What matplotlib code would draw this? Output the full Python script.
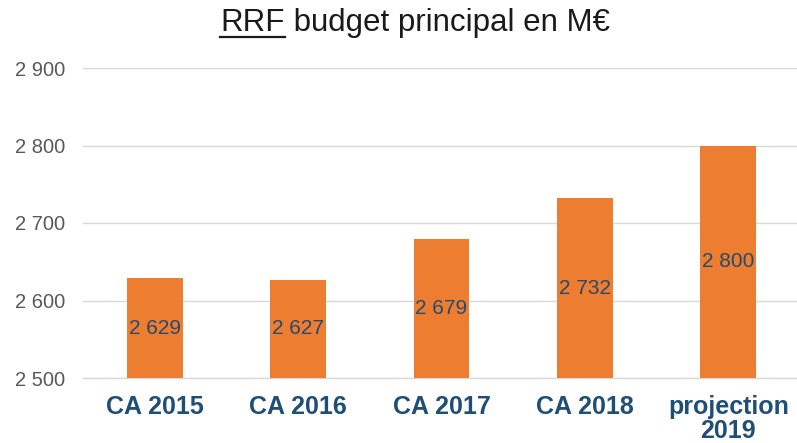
import matplotlib
matplotlib.use("Agg")
import matplotlib.pyplot as plt
from matplotlib.lines import Line2D

categories = ["CA 2015", "CA 2016", "CA 2017", "CA 2018", "projection\n2019"]
values = [2629, 2627, 2679, 2732, 2800]
value_labels = ["2 629", "2 627", "2 679", "2 732", "2 800"]
yticks = [2500, 2600, 2700, 2800, 2900]
ytick_labels = ["2 500", "2 600", "2 700", "2 800", "2 900"]

plt.rcParams['font.family'] = ['Liberation Sans', 'DejaVu Sans']

W, H = 797, 443
fig = plt.figure(figsize=(W / 100, H / 100), dpi=100)
ax = fig.add_axes([83 / W, 1 - 378 / H, (800 - 83) / W, (378 - 68) / H])

bar_color = "#ED7D31"
x = range(len(categories))
ax.bar(x, [v - 2500 for v in values], bottom=2500, width=0.39, color=bar_color, zorder=3)
for i, (v, lab) in enumerate(zip(values, value_labels)):
    ax.text(i, (2500 + v) / 2, lab, ha="center", va="center", fontsize=15,
            color="#264A6E", zorder=4)

ax.set_xlim(-0.5, len(categories) - 0.5)
ax.set_ylim(2500, 2900)
ax.set_yticks(yticks)
ax.set_yticklabels(ytick_labels, fontsize=14.5, color="#595959")
ax.set_xticks(list(x))
ax.set_xticklabels(categories, fontsize=18, fontweight="bold", color="#1F4E79",
                   linespacing=1.0)
ax.tick_params(axis="y", length=0, pad=13)
ax.tick_params(axis="x", length=0, pad=12.5)
ax.grid(axis="y", color="#D9D9D9", linewidth=1.0, zorder=0)
for s in ["top", "right", "left"]:
    ax.spines[s].set_visible(False)
ax.spines["bottom"].set_color("#D9D9D9")
ax.spines["bottom"].set_linewidth(1.0)

# Title with underlined "RRF"
renderer = fig.canvas.get_renderer()
fs = 22.5
t1 = fig.text(0, 0, "RRF", fontsize=fs, color="#1A1A1A", va="baseline", ha="left")
t2 = fig.text(0, 0, " budget principal en M€", fontsize=fs, color="#1A1A1A",
              va="baseline", ha="left")
w1 = t1.get_window_extent(renderer).width
w2 = t2.get_window_extent(renderer).width
cx = 415
base_y = H - 31
x0 = cx - (w1 + w2) / 2
t1.set_position((x0 / W, base_y / H))
t2.set_position(((x0 + w1) / W, base_y / H))
uy = (base_y - 6) / H
fig.add_artist(Line2D([x0 / W, (x0 + w1) / W], [uy, uy], color="#1A1A1A",
                      linewidth=1.6, transform=fig.transFigure))

fig.savefig("out.png", dpi=100)
